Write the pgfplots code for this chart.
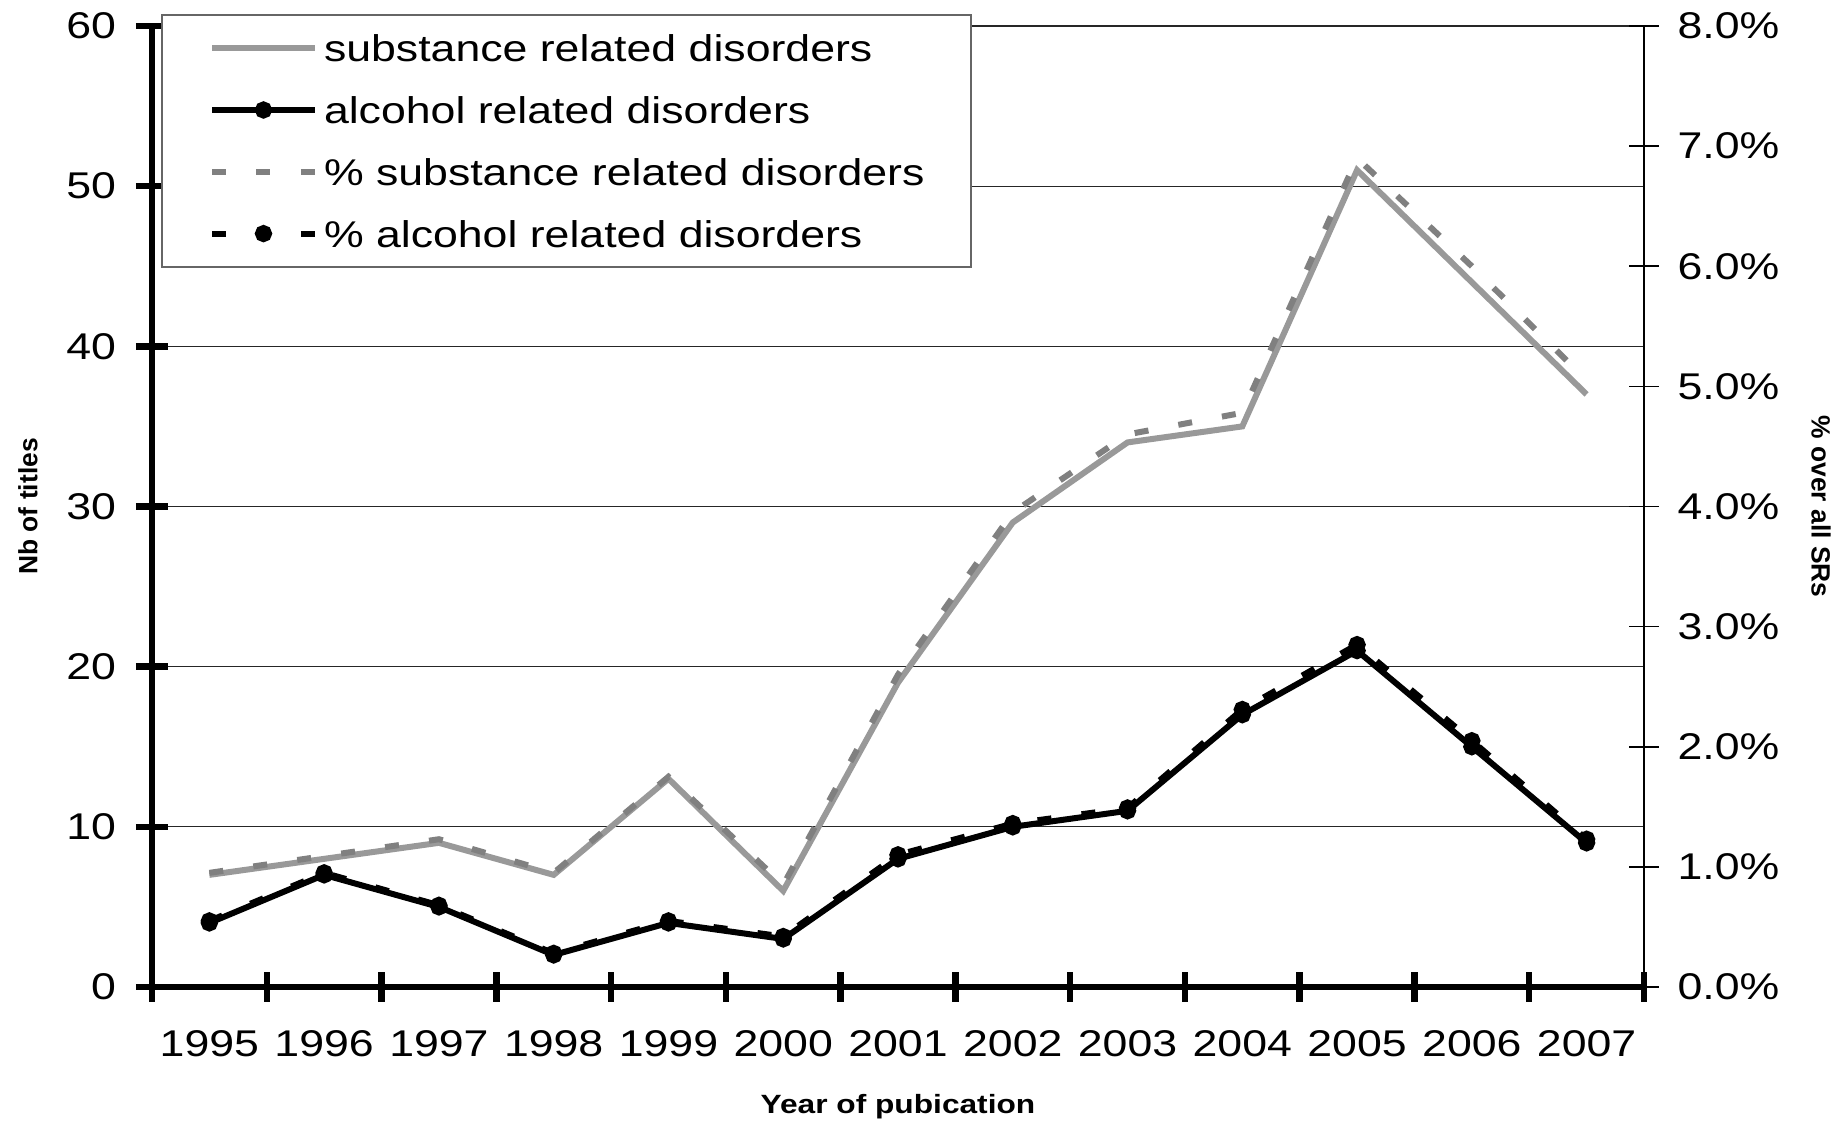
\documentclass[border=0pt]{standalone}
\usepackage{pgfplots}
\pgfplotsset{compat=1.18}
\usepackage{pgfplotstable}
\usepackage{fontspec}
\setmainfont{Liberation Sans}[FakeStretch=1.2]
\newfontfamily\uprightsans{Liberation Sans}

\definecolor{substgray}{RGB}{153,153,153}
\definecolor{pctgray}{RGB}{128,128,128}

% Systematic reviews per year: counts and share over all SRs (%)
\pgfplotstableread{
idx year subst alc psubst palc
0  1995  7  4 0.95 0.55
1  1996  8  7 1.09 0.95
2  1997  9  5 1.23 0.68
3  1998  7  2 0.95 0.28
4  1999 13  4 1.75 0.55
5  2000  6  3 0.85 0.42
6  2001 19  8 2.60 1.10
7  2002 29 10 3.95 1.36
8  2003 34 11 4.60 1.49
9  2004 35 17 4.78 2.31
10 2005 51 21 6.90 2.85
11 2006 44 15 6.00 2.05
12 2007 37  9 5.05 1.23
}\srtable

\pgfplotsset{
  substline/.style={color=substgray, line width=1.5pt, no markers},
  alcline/.style={color=black, line width=1.5pt, mark=*, mark size=1.4pt},
  psubstline/.style={color=pctgray, line width=1.5pt, dash pattern=on 3.5pt off 7.6pt, no markers},
  palcline/.style={color=black, line width=1.5pt, dash pattern=on 3.5pt off 7.6pt,
                   mark=*, mark size=1.4pt, mark options={solid}},
  srbase/.style={
    width=373pt, height=240.25pt, scale only axis,
    xmin=-0.5, xmax=12.5, ymin=0,
    /pgf/number format/assume math mode=true,
    tick label style={font=\fontsize{9.3}{11}\selectfont},
    tick align=center,
  },
}

\begin{document}
\begin{tikzpicture}
% primary axis: number of titles
\begin{axis}[srbase,
  ymax=60,
  axis x line*=bottom, axis y line*=left,
  x axis line style={line width=1.7pt},
  y axis line style={line width=1.7pt},
  xtick={0,...,12},
  xticklabels={1995,1996,1997,1998,1999,2000,2001,2002,2003,2004,2005,2006,2007},
  major x tick style={draw=none},
  minor xtick={-0.5,0.5,...,12.5},
  minor x tick style={line width=1.6pt, black},
  minor tick length=7.5pt,
  xticklabel shift=3.4pt,
  ytick={0,10,...,60},
  major y tick style={line width=1.6pt, black},
  major tick length=8pt,
  yticklabel shift=1.45pt,
  ymajorgrids,
  grid style={line width=0.3pt, black!85},
]
\addplot[substline] table[x=idx, y=subst]{\srtable};
\addplot[alcline]   table[x=idx, y=alc]{\srtable};
\end{axis}

% secondary axis: share over all SRs
\begin{axis}[srbase,
  ymax=8,
  hide x axis,
  axis y line*=right,
  y axis line style={line width=0.4pt},
  ytick={0,...,8},
  yticklabel={\pgfmathprintnumber[fixed,fixed zerofill,precision=1]{\tick}\%},
  major tick style={line width=0.4pt, black},
  major tick length=7.4pt,
  yticklabel shift=1.15pt,
  legend cell align=left,
  legend image code/.code={%
    \draw[mark repeat=2, mark phase=2, #1]
      plot coordinates {(0pt,0pt) (12.875pt,0pt) (25.75pt,0pt)};},
  legend style={
    at={(rel axis cs:0,1)}, anchor=north west,
    xshift=2.25pt, yshift=3pt,
    draw=black!60, line width=0.5pt, fill=white,
    inner xsep=11.75pt, inner ysep=4.9pt,
    row sep=8.65pt,
    font=\fontsize{9.3}{11}\selectfont,
    nodes={inner sep=0pt, text height=6.8pt, text depth=0pt},
    /tikz/every odd column/.append style={column sep=1.5pt},
  },
]
\addlegendimage{substline}
\addlegendentry{substance related disorders}
\addlegendimage{alcline}
\addlegendentry{alcohol related disorders}
\addplot[psubstline] table[x=idx, y=psubst]{\srtable};
\addlegendentry{\% substance related disorders}
\addplot[palcline]   table[x=idx, y=palc]{\srtable};
\addlegendentry{\% alcohol related disorders}
\end{axis}

% axis titles
\node[rotate=90, font=\uprightsans\bfseries\fontsize{6.6}{8}\selectfont] at (-31pt,120.125pt) {Nb of titles};
\node[rotate=-90, font=\uprightsans\bfseries\fontsize{6.6}{8}\selectfont] at (417.25pt,120.125pt) {\% over all SRs};
\node[font=\bfseries\fontsize{6.6}{8}\selectfont] at (186.5pt,-29.9pt) {Year of pubication};

\pgfresetboundingbox
\useasboundingbox (-38pt,-33.5pt) rectangle (423.25pt,246.75pt);
\end{tikzpicture}
\end{document}
